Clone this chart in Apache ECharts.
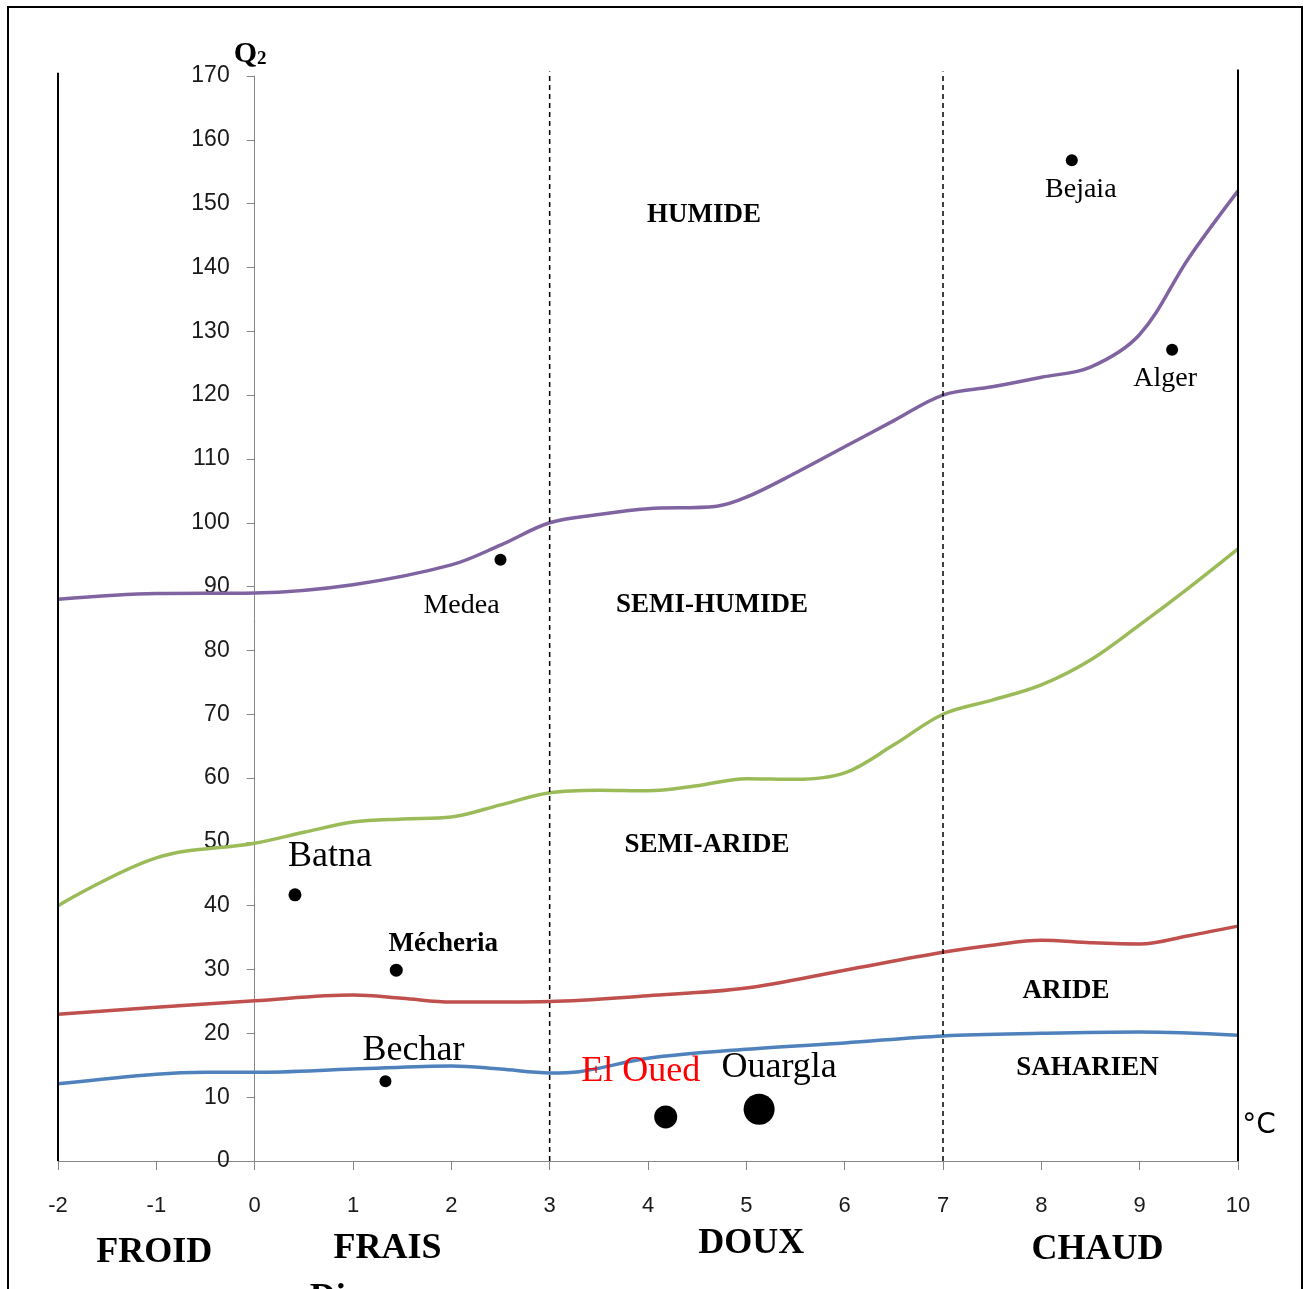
<!DOCTYPE html>
<html>
<head>
<meta charset="utf-8">
<script src="https://cdn.jsdelivr.net/npm/echarts@6/dist/echarts.min.js"></script>
<style>
  html, body { margin: 0; padding: 0; background: #fff; }
  #chart { width: 1306px; height: 1289px; }
</style>
</head>
<body>
<div id="chart"></div>
<script>
// Emberger climagram: Q2 against m (mean minimum of the coldest month, °C)

// Bioclimatic boundaries, [m, Q2]
const limitHumide = [[-2,88],[-1,88.9],[0,89],[1,90.3],[2,93.4],[2.5,96.5],[3,100],[3.5,101.3],[4,102.2],[4.7,102.6],[5,104],[5.5,107.8],[6,111.9],[6.5,116],[7,120],[7.5,121.3],[8,122.8],[8.5,124.4],[9,129.5],[9.5,141.5],[10,152]];
const limitSemiHumide = [[-2,40],[-1,47.5],[0,49.8],[0.5,51.5],[1,53.1],[1.5,53.6],[2,53.9],[2.5,55.8],[3,57.7],[3.5,58.1],[4,58],[4.5,58.8],[5,59.9],[5.5,59.8],[6,60.8],[6.5,65.2],[7,70],[7.5,72.2],[8,74.6],[8.5,78.5],[9,84],[9.5,89.8],[10,95.9]];
const limitSemiAride = [[-2,23],[-1,24.1],[0,25.1],[1,26],[1.5,25.5],[2,24.9],[3,25],[4,25.9],[5,27.1],[6,29.9],[7,32.7],[7.5,33.8],[8,34.6],[8.5,34.2],[9,34],[9.5,35.3],[10,36.8]];
const limitAride = [[-2,12.1],[-1,13.6],[-0.5,13.9],[0,13.9],[1,14.4],[2,14.9],[2.5,14.4],[3,13.8],[3.3,14],[4,16.1],[5,17.5],[6,18.5],[7,19.6],[8,20],[9,20.2],[10,19.7]];

// Stations
const stations = ['Bejaia','Alger','Medea','Batna','Mécheria','Bechar','El Oued','Ouargla'];
const stationM = [8.31, 9.33, 2.5, 0.41, 1.44, 1.33, 4.18, 5.13];
const stationQ2 = [156.8, 127.1, 94.2, 41.7, 29.9, 12.5, 6.9, 8.1];

// Bioclimatic stage names and where they sit, [m, Q2]
const stageNames = ['HUMIDE','SEMI-HUMIDE','SEMI-ARIDE','ARIDE','SAHARIEN'];
const stagePos = [[4.57,148.2],[4.65,87.1],[4.6,49.5],[8.25,26.6],[8.47,14.6]];

// Winter variants along m
const winterNames = ['FROID','FRAIS','DOUX','CHAUD'];

// Axis ranges and thermal boundaries
const xMin = -2, xMax = 10, yMin = 0, yMax = 170;
const frameLines = [-2, 10];
const winterBounds = [3, 7];

const serif = '"Liberation Serif", "Times New Roman", serif';

// per-station label look
const stationStyle = {
  'Bejaia':   { size: 12, font: 28, bold: false, color: '#000', off: [9, 29] },
  'Alger':    { size: 12, font: 28, bold: false, color: '#000', off: [-7, 29] },
  'Medea':    { size: 12, font: 28, bold: false, color: '#000', off: [-39, 46] },
  'Batna':    { size: 13, font: 36, bold: false, color: '#000', off: [35, -38] },
  'Mécheria': { size: 13, font: 27, bold: true,  color: '#000', off: [47, -26] },
  'Bechar':   { size: 12, font: 36, bold: false, color: '#000', off: [28, -31] },
  'El Oued':  { size: 23, font: 36, bold: false, color: '#ff0000', off: [-25, -45] },
  'Ouargla':  { size: 31, font: 36, bold: false, color: '#000', off: [20, -42] }
};

const W = 1306;
const gridLeft = 58, gridRight = 68, gridTop = 76, gridBottom = 128;
const gridWidth = W - gridLeft - gridRight;
// the Q2 axis stands at m = 0
const yAxisShift = gridWidth * (0 - xMin) / (xMax - xMin);

const chart = echarts.init(document.getElementById('chart'));

function curve(data, color) {
  return {
    type: 'line', data: data, smooth: 0.35, symbol: 'none', z: 3,
    lineStyle: { color: color, width: 3.5 }
  };
}
function vline(x, dashed, top) {
  return {
    type: 'line', data: [[x, yMin], [x, top]], symbol: 'none', clip: false, z: 4,
    lineStyle: { color: '#000', width: dashed ? 1.5 : 2, type: dashed ? [5, 4] : 'solid' }
  };
}

const series = [
  curve(limitHumide, '#8064A2'),
  curve(limitSemiHumide, '#9BBB59'),
  curve(limitSemiAride, '#C0504D'),
  curve(limitAride, '#4F81BD'),
  vline(frameLines[0], false, 170.5),
  vline(frameLines[1], false, 171),
  vline(winterBounds[0], true, 170.7),
  vline(winterBounds[1], true, 170.7),
  {
    type: 'scatter', z: 5, clip: false,
    data: stations.map((n, i) => {
      const s = stationStyle[n];
      return {
        name: n, value: [stationM[i], stationQ2[i]], symbolSize: s.size,
        label: {
          show: true, formatter: n, position: 'inside', offset: s.off,
          fontFamily: serif, fontSize: s.font, fontWeight: s.bold ? 'bold' : 'normal',
          color: s.color, align: 'center', verticalAlign: 'middle'
        }
      };
    }),
    itemStyle: { color: '#000', opacity: 1 }
  },
  {
    type: 'scatter', z: 5, symbolSize: 1, clip: false,
    itemStyle: { color: 'rgba(0,0,0,0)', opacity: 1 },
    data: stageNames.map((n, i) => ({
      value: stagePos[i],
      label: {
        show: true, formatter: n, position: 'inside',
        fontFamily: serif, fontSize: 27, fontWeight: 'bold', color: '#000',
        align: 'center', verticalAlign: 'middle'
      }
    }))
  }
];

chart.setOption({
  animation: false,
  backgroundColor: '#fff',
  grid: { left: gridLeft, right: gridRight, top: gridTop, bottom: gridBottom, containLabel: false, outerBoundsMode: 'none' },
  xAxis: {
    type: 'value', min: xMin, max: xMax, interval: 1,
    axisLine: { show: true, onZero: false, lineStyle: { color: '#868686', width: 1 } },
    axisTick: { show: true, length: 9, lineStyle: { color: '#868686' } },
    axisLabel: { margin: 34, fontFamily: '"Liberation Sans", sans-serif', fontSize: 22, color: '#1a1a1a' },
    splitLine: { show: false }
  },
  yAxis: {
    type: 'value', min: yMin, max: yMax, interval: 10,
    position: 'left', offset: -yAxisShift,
    axisLine: { show: true, onZero: false, lineStyle: { color: '#868686', width: 1 } },
    axisTick: { show: true, length: 8, lineStyle: { color: '#868686' } },
    axisLabel: { margin: 25, fontFamily: '"Liberation Sans", sans-serif', fontSize: 23, color: '#1a1a1a' },
    splitLine: { show: false }
  },
  series: series
});

// annotations around the plot, positioned from the axes
const px = (x, y) => chart.convertToPixel({ gridIndex: 0 }, [x, y]);
const winterPos = [[-1.02, -14.3], [1.35, -13.8], [5.05, -13.0], [8.57, -13.9]];
const graphics = [
  { type: 'rect', shape: { x: 8, y: 7, width: 1294, height: 1320 },
    style: { fill: 'none', stroke: '#000', lineWidth: 2 }, z: 10 }
];
winterNames.forEach((n, i) => {
  const p = px(winterPos[i][0], winterPos[i][1]);
  graphics.push({ type: 'text', x: p[0], y: p[1], z: 10,
    style: { text: n, font: 'bold 36px ' + serif, fill: '#000', align: 'center', verticalAlign: 'middle' } });
});
const q = px(0, 170);
graphics.push({ type: 'text', x: q[0] - 21, y: q[1] - 7, z: 10,
  style: {
    text: '{q|Q}{s|2}', align: 'left', verticalAlign: 'bottom',
    rich: {
      q: { font: 'bold 30px ' + serif, fill: '#000', verticalAlign: 'bottom' },
      s: { font: 'bold 19px ' + serif, fill: '#000', verticalAlign: 'bottom' }
    }
  } });
const c = px(10, 0);
graphics.push({ type: 'text', x: c[0] + 21, y: c[1] - 35, z: 10,
  style: { text: '°C', font: '28px "DejaVu Sans", sans-serif', fill: '#000', align: 'center', verticalAlign: 'middle' } });
const d = px(0.6, -18.5);
graphics.push({ type: 'text', x: d[0] - 4, y: d[1] + 2, z: 10,
  style: { text: 'Di', font: 'bold 36px ' + serif, fill: '#000', align: 'left', verticalAlign: 'top' } });

chart.setOption({ graphic: graphics });
</script>
</body>
</html>
